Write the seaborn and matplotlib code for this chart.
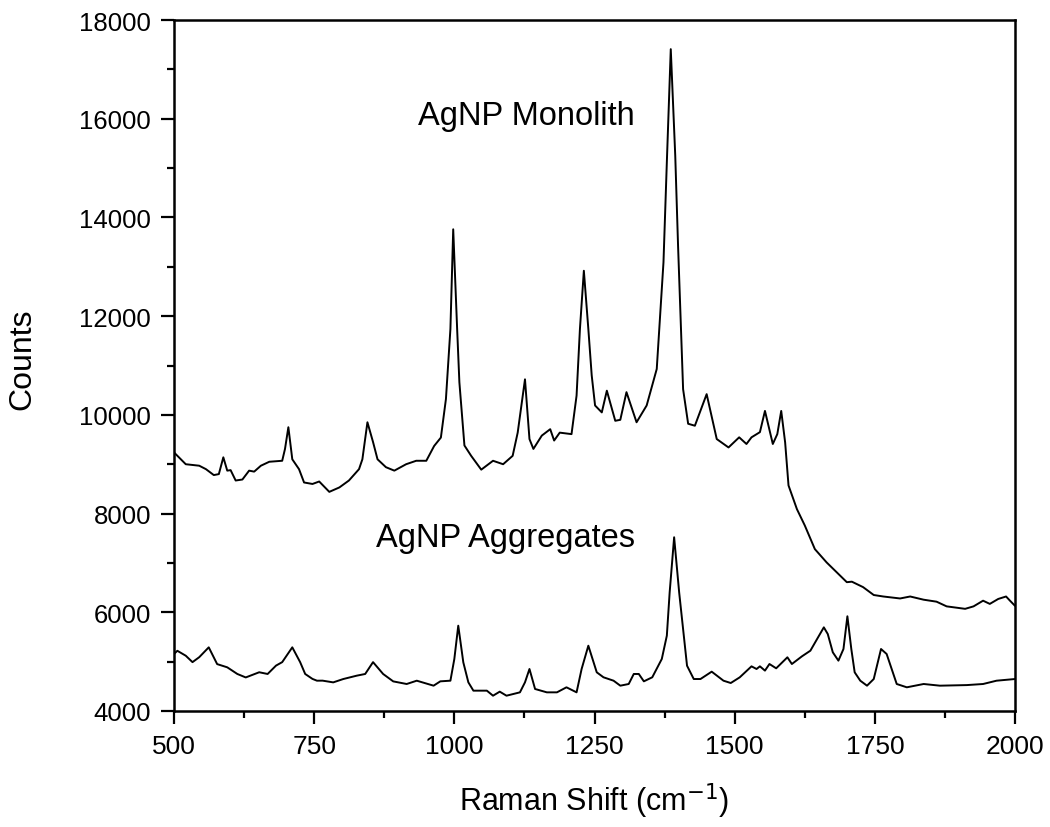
import pandas as pd
import seaborn as sns
import matplotlib.pyplot as plt
from matplotlib.ticker import MultipleLocator

# Raman shift (cm-1) and counts
mono_shift = [500, 521, 545, 557, 571, 580, 588, 595, 601, 610, 622, 634, 643,
              655, 670, 693, 698, 704, 711, 723, 732, 747, 759, 777, 795, 812,
              830, 836, 845, 855, 863, 878, 893, 914, 932, 950, 964, 976, 985,
              993, 998, 1005, 1009, 1018, 1030, 1048, 1069, 1087, 1104, 1113,
              1126, 1134, 1141, 1156, 1171, 1178, 1188, 1209, 1218, 1224, 1231,
              1239, 1245, 1251, 1263, 1272, 1287, 1296, 1307, 1325, 1343, 1361,
              1373, 1379, 1386, 1394, 1399, 1408, 1417, 1429, 1450, 1468, 1489,
              1508, 1521, 1530, 1545, 1554, 1568, 1576, 1583, 1590, 1596, 1611,
              1625, 1643, 1664, 1682, 1700, 1709, 1729, 1748, 1765, 1795, 1813,
              1837, 1860, 1878, 1911, 1926, 1943, 1955, 1970, 1984, 1991, 2000]
mono_counts = [9240, 9000, 8970, 8900, 8780, 8800, 9140, 8870, 8880, 8670, 8690,
               8870, 8850, 8970, 9050, 9070, 9310, 9750, 9100, 8900, 8630, 8600,
               8650, 8440, 8530, 8670, 8900, 9100, 9850, 9450, 9100, 8940, 8870,
               9000, 9070, 9070, 9370, 9540, 10320, 11740, 13760, 11740, 10660,
               9380, 9170, 8890, 9070, 9000, 9170, 9640, 10720, 9510, 9310, 9580,
               9710, 9480, 9640, 9610, 10390, 11740, 12920, 11740, 10800, 10190,
               10050, 10490, 9880, 9900, 10460, 9850, 10190, 10930, 13090, 15120,
               17410, 15250, 13430, 10520, 9820, 9780, 10420, 9510, 9340, 9545,
               9410, 9545, 9650, 10080, 9410, 9610, 10080, 9440, 8570, 8090, 7760,
               7280, 7010, 6810, 6610, 6620, 6510, 6350, 6320, 6280, 6320, 6255,
               6215, 6120, 6070, 6120, 6235, 6170, 6270, 6320, 6235, 6130]

aggr_shift = [500, 506, 521, 533, 545, 562, 577, 595, 613, 628, 652, 667, 682,
              693, 711, 725, 734, 747, 755, 765, 784, 802, 826, 841, 855, 873,
              891, 915, 933, 963, 975, 993, 1000, 1007, 1016, 1025, 1034, 1058,
              1069, 1081, 1093, 1117, 1126, 1134, 1144, 1165, 1183, 1200, 1218,
              1227, 1239, 1254, 1266, 1284, 1296, 1311, 1320, 1329, 1338, 1353,
              1370, 1379, 1384, 1392, 1401, 1415, 1427, 1439, 1459, 1480, 1493,
              1509, 1530, 1539, 1545, 1554, 1562, 1574, 1594, 1602, 1620, 1635,
              1647, 1659, 1666, 1675, 1685, 1694, 1701, 1708, 1714, 1724, 1736,
              1748, 1761, 1771, 1780, 1789, 1807, 1837, 1866, 1914, 1943, 1967,
              2000]
aggr_counts = [5155, 5220, 5120, 4990, 5090, 5290, 4950, 4885, 4750, 4680, 4785,
               4750, 4920, 4990, 5290, 4990, 4750, 4650, 4614, 4615, 4580, 4648,
               4716, 4750, 4990, 4750, 4600, 4547, 4614, 4513, 4601, 4614, 5054,
               5729, 4986, 4581, 4412, 4412, 4310, 4392, 4310, 4378, 4581, 4851,
               4446, 4378, 4378, 4480, 4378, 4851, 5323, 4784, 4683, 4614, 4513,
               4547, 4750, 4750, 4601, 4683, 5054, 5526, 6400, 7520, 6400, 4918,
               4648, 4648, 4797, 4614, 4567, 4682, 4905, 4851, 4905, 4818, 4952,
               4865, 5088, 4952, 5108, 5222, 5459, 5695, 5560, 5189, 5020, 5256,
               5919, 5256, 4784, 4614, 4513, 4648, 5256, 5155, 4851, 4547, 4480,
               4547, 4513, 4525, 4547, 4614, 4648]

labels = ['AgNP Monolith', 'AgNP Aggregates']
label_pos = [(1128, 16075), (1092, 7525)]

df = pd.concat([
    pd.DataFrame({'shift': mono_shift, 'counts': mono_counts, 'sample': labels[0]}),
    pd.DataFrame({'shift': aggr_shift, 'counts': aggr_counts, 'sample': labels[1]}),
])

sns.set_style('ticks')
plt.rcParams['font.family'] = ['Liberation Sans', 'DejaVu Sans']
plt.rcParams['text.color'] = 'black'
plt.rcParams['axes.labelcolor'] = 'black'

fig = plt.figure(figsize=(10.5, 8.28), dpi=100)
ax = fig.add_axes([0.1657, 0.1401, 0.8010, 0.8345])

sns.lineplot(data=df, x='shift', y='counts', units='sample', estimator=None,
             color='black', linewidth=1.4, sort=False, ax=ax, legend=False)

for text, (x, y) in zip(labels, label_pos):
    ax.text(x, y, text, ha='center', va='center', fontsize=23.5, color='black')

ax.set_xlim(500, 2000)
ax.set_ylim(4000, 18000)
ax.xaxis.set_major_locator(MultipleLocator(250))
ax.xaxis.set_minor_locator(MultipleLocator(125))
ax.yaxis.set_major_locator(MultipleLocator(2000))
ax.yaxis.set_minor_locator(MultipleLocator(1000))

for s in ax.spines.values():
    s.set_linewidth(1.8)
    s.set_color('black')
ax.tick_params(which='major', length=9.5, width=1.6, colors='black', pad=7)
ax.tick_params(which='minor', length=5, width=1.6, colors='black')
ax.tick_params(axis='y', labelsize=18.5)
ax.tick_params(axis='x', labelsize=19)

ax.set_xlabel('Raman Shift (cm$^{-1}$)', fontsize=22)
ax.set_ylabel('Counts', fontsize=23)
ax.xaxis.set_label_coords(0.5, -0.1)
ax.yaxis.set_label_coords(-0.162, 0.51)

fig.savefig('out.png', dpi=100)
